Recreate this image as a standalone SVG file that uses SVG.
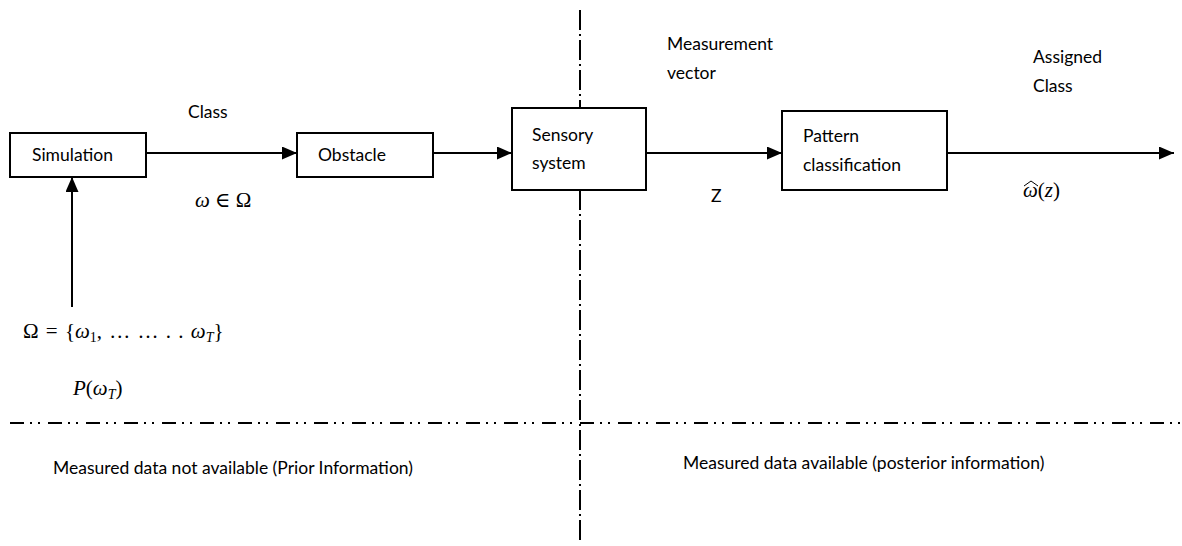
<svg xmlns="http://www.w3.org/2000/svg" width="1182" height="546" viewBox="0 0 1182 546">
  <style>
    .box { fill: #ffffff; stroke: #000000; stroke-width: 2; }
    .conn { stroke: #000000; stroke-width: 2; fill: none; }
    .lbl { font-family: Lato, "Liberation Sans", sans-serif; font-size: 17.5px; fill: #000000; }
    .math { font-family: "Liberation Serif", "DejaVu Serif", serif; font-size: 21px; fill: #000000; }
    .it { font-style: italic; }
    .sub { font-size: 14px; }
    .accent { stroke: #000000; stroke-width: 1; fill: none; }
    .divH { stroke: #000000; stroke-width: 2; fill: none; stroke-dasharray: 14 6 2 6 2 8; }
    .divV { stroke: #000000; stroke-width: 2; fill: none; stroke-dasharray: 20 4 2 4; }
  </style>
  <defs>
    <marker id="arrow" markerWidth="15" markerHeight="13" refX="15" refY="6.5" orient="auto" markerUnits="userSpaceOnUse">
      <path d="M0,0 L15,6.5 L0,13 Z" fill="#000000"/>
    </marker>
  </defs>
  <rect width="1182" height="546" fill="#ffffff"/>

  <!-- region dividers -->
  <g id="dividers">
    <line class="divH" x1="10" y1="423" x2="1182" y2="423"/>
    <line class="divV" x1="580" y1="10" x2="580" y2="540"/>
  </g>

  <!-- connectors -->
  <g id="connectors">
    <line class="conn" x1="146" y1="153" x2="297" y2="153" marker-end="url(#arrow)"/>
    <line class="conn" x1="433" y1="153" x2="512" y2="153" marker-end="url(#arrow)"/>
    <line class="conn" x1="646" y1="153" x2="782" y2="153" marker-end="url(#arrow)"/>
    <line class="conn" x1="947" y1="153" x2="1174" y2="153" marker-end="url(#arrow)"/>
    <line class="conn" x1="72" y1="307" x2="72" y2="177" marker-end="url(#arrow)"/>
  </g>

  <g id="simulation">
    <rect class="box" x="10" y="133" width="136" height="44"/>
    <text class="lbl" x="32" y="161">Simulation</text>
  </g>

  <g id="obstacle">
    <rect class="box" x="297" y="133" width="136" height="44"/>
    <text class="lbl" x="318" y="161">Obstacle</text>
  </g>

  <g id="sensory-system">
    <rect class="box" x="512" y="108" width="134" height="82"/>
    <text class="lbl" x="532" y="141">Sensory</text>
    <text class="lbl" x="532" y="169">system</text>
  </g>

  <g id="pattern-classification">
    <rect class="box" x="782" y="111" width="165" height="79"/>
    <text class="lbl" x="803" y="142">Pattern</text>
    <text class="lbl" x="803" y="171">classification</text>
  </g>

  <!-- edge and region labels -->
  <g id="labels">
    <text class="lbl" x="188" y="118">Class</text>
    <text class="math" x="195" y="207"><tspan class="it">ω</tspan> ∈ Ω</text>
    <text class="lbl" x="667" y="50">Measurement</text>
    <text class="lbl" x="667" y="79">vector</text>
    <text class="lbl" x="711" y="202">Z</text>
    <text class="lbl" x="1033" y="63">Assigned</text>
    <text class="lbl" x="1033" y="92">Class</text>
    <text class="math" x="1023" y="197"><tspan class="it">ω</tspan>(<tspan class="it">z</tspan>)</text>
    <!-- wide hat accent over the estimate -->
    <path class="accent" d="M1024,186 L1031,181 L1038,186"/>
    <text class="math" x="23" y="338" word-spacing="2">Ω = {<tspan class="it">ω</tspan><tspan class="sub" dy="4">1</tspan><tspan dy="-4">, … … . . </tspan><tspan class="it">ω</tspan><tspan class="sub it" dy="4">T</tspan><tspan dy="-4">}</tspan></text>
    <text class="math" x="73" y="395" font-size="22"><tspan class="it">P</tspan>(<tspan class="it">ω</tspan><tspan class="sub it" dy="4">T</tspan><tspan dy="-4">)</tspan></text>
    <text class="lbl" x="53" y="474">Measured data not available (Prior Information)</text>
    <text class="lbl" x="683" y="469">Measured data available (posterior information)</text>
  </g>
</svg>
